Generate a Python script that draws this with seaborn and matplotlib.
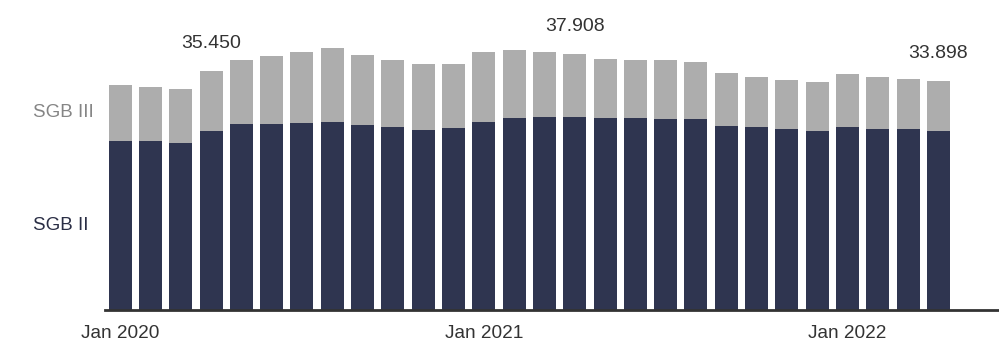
import numpy as np
import pandas as pd
import matplotlib
matplotlib.use("Agg")
import matplotlib.pyplot as plt
import seaborn as sns

# monthly values, Jan 2020 - Apr 2022
months = pd.date_range("2020-01-01", "2022-04-01", freq="MS")
total = [33300, 33090, 32710, 35450, 37100, 37600, 38240, 38780, 37840, 37050,
         36460, 36500, 38240, 38530, 38240, 37908, 37240, 37050, 37000, 36710,
         35170, 34530, 34130, 33740, 34930, 34490, 34280, 33898]
sgb2 = [25090, 25000, 24800, 26480, 27570, 27520, 27670, 27820, 27420, 27170,
        26680, 26970, 27910, 28410, 28600, 28650, 28450, 28410, 28260, 28310,
        27320, 27080, 26780, 26480, 27170, 26780, 26780, 26480]
labelled = {3: "35.450", 15: "37.908", 27: "33.898"}
tick_labels = ["Jan 2020", "Jan 2021", "Jan 2022"]

navy = "#2f3550"
grey = "#adadad"

sns.set_theme(style="white")
plt.rcParams["font.family"] = ["Liberation Sans", "DejaVu Sans"]

df = pd.DataFrame({"month": months.strftime("%Y-%m"), "total": total, "sgb2": sgb2})

fig = plt.figure(figsize=(9.99, 3.57), dpi=100)
ax = fig.add_axes([105 / 999, 47 / 357, 894 / 999, 310 / 357])

sns.barplot(data=df, x="month", y="total", color=grey, width=0.76, ax=ax,
            saturation=1, linewidth=0)
sns.barplot(data=df, x="month", y="sgb2", color=navy, width=0.76, ax=ax,
            saturation=1, linewidth=0)

ax.set_xlim(-0.5, 29.0)
ax.set_ylim(0, 45940)
ax.set_xlabel("")
ax.set_ylabel("")
ax.set_yticks([])
for s in ["top", "right", "left"]:
    ax.spines[s].set_visible(False)
ax.spines["bottom"].set_color("#333333")
ax.spines["bottom"].set_linewidth(2)

# tick marks at the start of each year, labels under the January bar
ax.set_xticks([-0.5, 11.5, 23.5])
ax.set_xticklabels(["", "", ""])
ax.tick_params(axis="x", which="major", length=4, width=1.2, color="#333333", direction="out")
ax.set_xticks([0, 12, 24], minor=True)
ax.set_xticklabels(tick_labels, minor=True)
ax.tick_params(axis="x", which="minor", length=0, pad=11, labelsize=13.7, labelcolor="#333333")

for i, txt in labelled.items():
    ax.annotate(txt, (i, total[i]), xytext=(0, 20), textcoords="offset points",
                ha="center", va="center", fontsize=14, color="#333333")

# series labels next to the first bar
ax.text(-72 / 30.3 - 0.5, (total[0] + sgb2[0]) / 2, "SGB III", ha="left", va="center",
        fontsize=13.5, color="#858585", clip_on=False)
ax.text(-72 / 30.3 - 0.5, sgb2[0] / 2, "SGB II", ha="left", va="center",
        fontsize=13.5, color="#2a2e45", clip_on=False)

fig.savefig("out.png", dpi=100)
